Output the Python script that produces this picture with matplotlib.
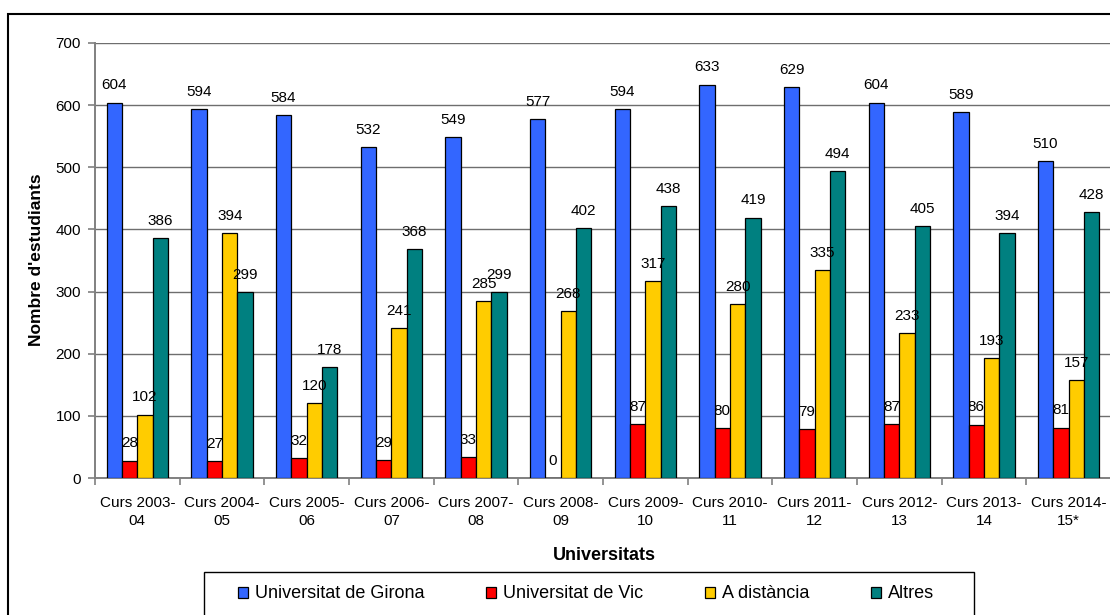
import numpy as np
import matplotlib
matplotlib.use("Agg")
import matplotlib.pyplot as plt
from matplotlib.patches import Rectangle, Patch

plt.rcParams["font.family"] = ["Liberation Sans", "DejaVu Sans"]

cursos = ["Curs 2003-\n04", "Curs 2004-\n05", "Curs 2005-\n06", "Curs 2006-\n07",
          "Curs 2007-\n08", "Curs 2008-\n09", "Curs 2009-\n10", "Curs 2010-\n11",
          "Curs 2011-\n12", "Curs 2012-\n13", "Curs 2013-\n14", "Curs 2014-\n15*"]
girona = [604, 594, 584, 532, 549, 577, 594, 633, 629, 604, 589, 510]
vic = [28, 27, 32, 29, 33, 0, 87, 80, 79, 87, 86, 81]
distancia = [102, 394, 120, 241, 285, 268, 317, 280, 335, 233, 193, 157]
altres = [386, 299, 178, 368, 299, 402, 438, 419, 494, 405, 394, 428]

series = [("Universitat de Girona", girona, "#3366FF"),
          ("Universitat de Vic", vic, "#FF0000"),
          ("A distància", distancia, "#FFCC00"),
          ("Altres", altres, "#008080")]

W, H = 1110, 615
fig = plt.figure(figsize=(W/100, H/100), dpi=100)
ax = fig.add_axes([95/W, 1-478/H, 1016/W, 435/H])

x = np.arange(len(cursos))
w = 0.182
for j, (name, vals, col) in enumerate(series):
    pos = x + (j-1.5)*w
    ax.bar(pos, vals, w, color=col, edgecolor="black", linewidth=0.9, zorder=3)
    for p, v in zip(pos, vals):
        if j == 1:
            ax.annotate(str(v), (p, v), xytext=(0, 9.5), textcoords="offset points",
                        ha="center", va="baseline", fontsize=11, zorder=2.5,
                        bbox=dict(facecolor="white", edgecolor="none", pad=0.5))
        else:
            ax.annotate(str(v), (p, v), xytext=(0, 9.5), textcoords="offset points",
                        ha="center", va="baseline", fontsize=11, zorder=5)

ax.set_xlim(-0.5, len(cursos)-0.5)
ax.set_ylim(0, 700)
ax.set_yticks(np.arange(0, 701, 100))
ax.yaxis.grid(True, color="#6e6e6e", linewidth=1.0, zorder=0)
ax.set_axisbelow(True)
ax.set_xticks(x)
ax.set_xticklabels(cursos, fontsize=11, linespacing=1.35)
ax.set_xticks(np.arange(-0.5, len(cursos), 1), minor=True)
ax.tick_params(axis="x", which="major", length=0, pad=13)
ax.tick_params(axis="x", which="minor", length=5, color="#808080", width=1.2)
ax.tick_params(axis="y", length=5, color="#808080", width=1.2, pad=5, labelsize=11)
for s in ["top", "right"]:
    ax.spines[s].set_visible(False)
for s in ["left", "bottom"]:
    ax.spines[s].set_color("#808080")
    ax.spines[s].set_linewidth(1.4)

fig.text(37/W, 1-260/H, "Nombre d'estudiants", rotation=90, ha="center", va="center",
         fontsize=12.5, fontweight="bold")
fig.text(604/W, 1-556/H, "Universitats", ha="center", va="center",
         fontsize=13, fontweight="bold")

# legend frame, clipped by the bottom edge
fig.patches.append(Rectangle((204/W, -0.05), (974-204)/W, 0.05+1-572/H, transform=fig.transFigure,
                             fill=False, edgecolor="black", linewidth=1.0))
handles = [Patch(facecolor=c, edgecolor="black", linewidth=0.9) for _, _, c in series]
fig.legend(handles, [n for n, _, _ in series], loc="center left", bbox_to_anchor=(238/W, 1-594/H),
           ncol=4, frameon=False, fontsize=13, handlelength=0.55, handleheight=0.55,
           handletextpad=0.4, columnspacing=3.4, borderpad=0, borderaxespad=0)

# outer chart border
fig.patches.append(Rectangle((7.5/W, -0.1), 1.2, 1.1-13.5/H, transform=fig.transFigure,
                             fill=False, edgecolor="black", linewidth=1.5))

fig.savefig("out.png", dpi=100)
plt.close()
